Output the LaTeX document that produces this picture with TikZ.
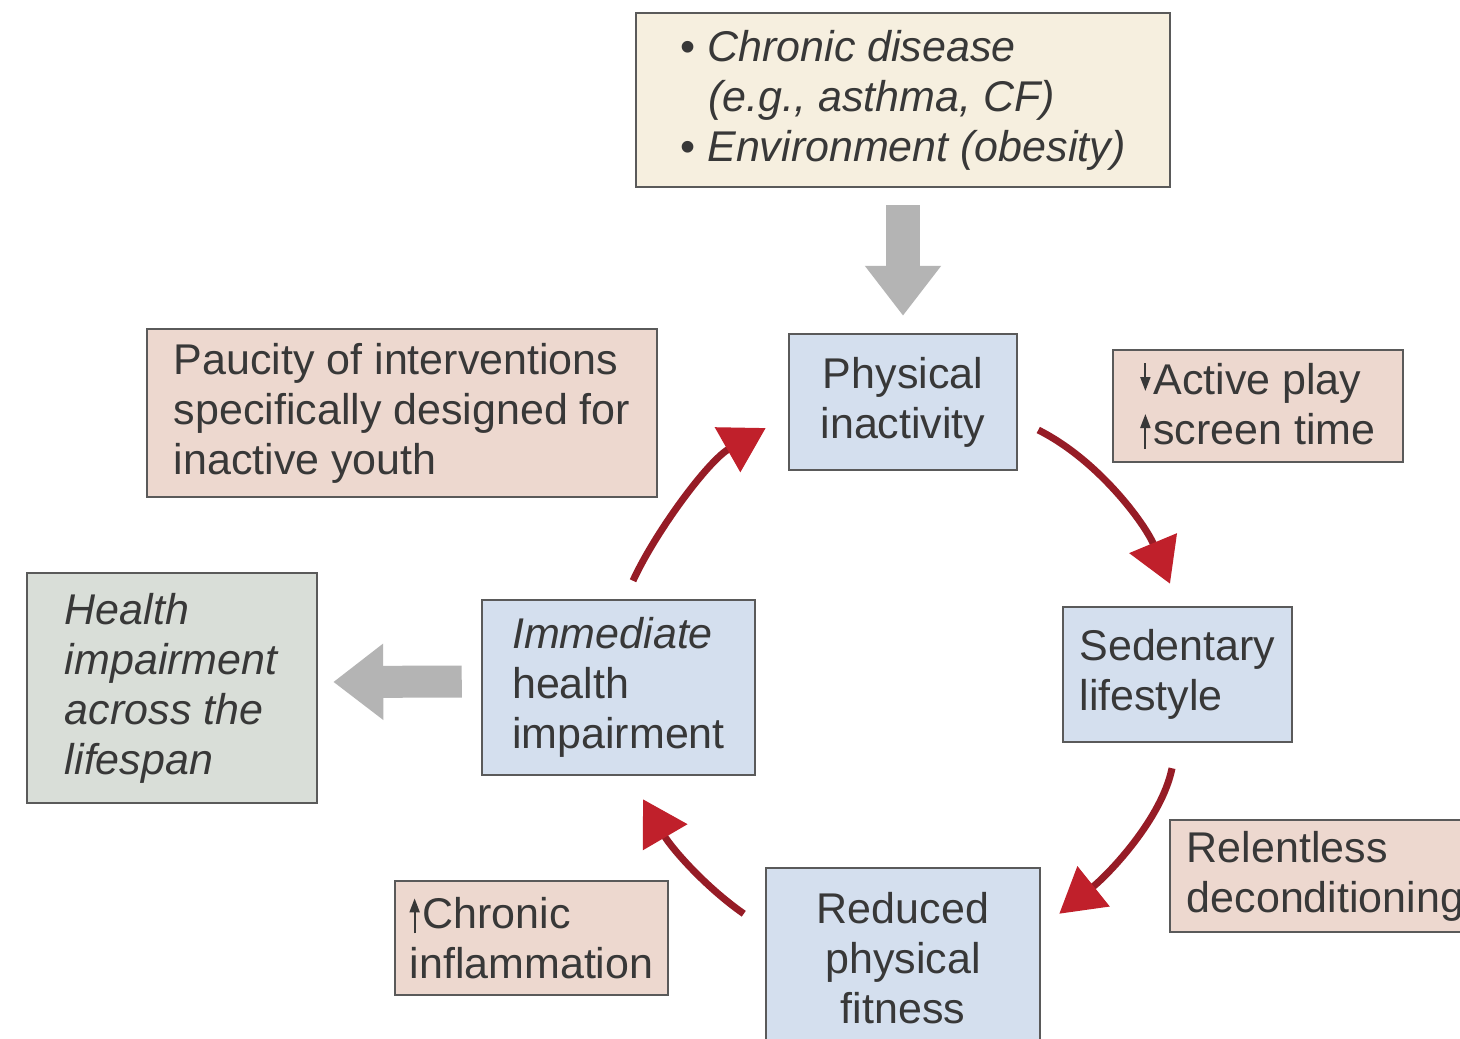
\documentclass[tikz,border=0pt]{standalone}
\usepackage{fontspec}
\setmainfont{Liberation Sans}
\usetikzlibrary{arrows.meta}

\definecolor{ink}{HTML}{383838}
\definecolor{edge}{HTML}{5A5A5A}
\definecolor{bluefill}{HTML}{D4DFEE}
\definecolor{pinkfill}{HTML}{EDD8CF}
\definecolor{creamfill}{HTML}{F6EFDF}
\definecolor{greyfill}{HTML}{D9DED8}
\definecolor{blockgrey}{HTML}{B4B4B4}
\definecolor{cycleshaft}{HTML}{961C26}
\definecolor{cyclehead}{HTML}{C0202B}

% small increase / decrease marks set in front of words
\newcommand\risemark{\tikz[baseline=0pt]\draw[ink,line width=2pt,-{Triangle[length=14pt,width=10pt]}] (0pt,-5pt)--(0pt,30pt);\kern3pt}
\newcommand\fallmark{\tikz[baseline=0pt]\draw[ink,line width=2pt,-{Triangle[length=14pt,width=10pt]}] (0pt,31pt)--(0pt,3pt);\kern3pt}

\tikzset{
  box/.style={draw=edge, line width=2.5pt, inner sep=0pt, align=left,
    text=ink, font=\fontsize{43}{50}\selectfont},
  stage/.style={box, fill=bluefill},
  factor/.style={box, fill=pinkfill},
  blockarrow/.style={draw=blockgrey, line width=34pt,
    -{Triangle[length=50pt,width=73pt,color=blockgrey]}},
  cyclearrow/.style={draw=cycleshaft, line width=7pt,
    -{Triangle[length=44pt,width=50pt,color=cyclehead]}}
}

\begin{document}
\begin{tikzpicture}[x=1pt,y=-1pt]
\path[use as bounding box, fill=white] (0,0) rectangle (1460,1039);

% causes at the top
\node[box, fill=creamfill, minimum width=534pt, minimum height=174pt] (causes) at (903,100)
  {\textbullet\ \textit{Chronic disease}\\
   \hspace*{28pt}\textit{(e.g., asthma, CF)}\\
   \textbullet\ \textit{Environment (obesity)}};

% the four stages of the cycle
\node[stage, align=center, minimum width=228pt, minimum height=136pt] (phys) at (903,402)
  {Physical\\inactivity};
\node[stage, minimum width=229pt, minimum height=135pt] (sed) at (1177.5,674.5)
  {Sedentary\\lifestyle};
\node[stage, align=center, minimum width=274pt, minimum height=180pt] (reduced) at (903,958)
  {Reduced\\physical\\fitness};
\node[stage, minimum width=273pt, minimum height=175pt] (imm) at (618.5,687.5)
  {\textit{Immediate}\\health\\impairment};

% side notes
\node[factor, minimum width=290pt, minimum height=112pt] (active) at (1258,406)
  {\fallmark Active play\\\risemark screen time};
\node[factor, minimum width=510pt, minimum height=168pt] (paucity) at (402,413)
  {Paucity of interventions\\specifically designed for\\inactive youth};
\node[factor, minimum width=311pt, minimum height=112pt] (relent) at (1325.5,876)
  {Relentless\\deconditioning};
\node[factor, minimum width=273pt, minimum height=114pt] (infl) at (531.5,938)
  {\risemark Chronic\\inflammation};

% long-term outcome
\node[box, fill=greyfill, minimum width=290pt, minimum height=230pt] (life) at (172,688)
  {\textit{Health}\\\textit{impairment}\\\textit{across the}\\\textit{lifespan}};

% wide grey arrows
\draw[blockarrow, shorten <=17pt, shorten >=17pt] (causes.south) -- (phys.north);
\draw[blockarrow, line width=32pt, shorten <=19pt, shorten >=15pt]
  ([yshift=6pt]imm.west) -- ([yshift=6pt]life.east);

% the vicious cycle
\draw[cyclearrow] ([shift={(20,28)}]phys.east)
  .. controls +(60,30) and +(-25,-60) .. ([shift={(-7.5,-22)}]sed.north);
\draw[cyclearrow] ([shift={(-5.5,25)}]sed.south)
  .. controls +(-10,50) and +(50,-40) .. ([shift={(18,47)}]reduced.north east);
\draw[cyclearrow] ([shift={(-21,47)}]reduced.north west)
  .. controls +(-40,-28) and +(28,48) .. ([shift={(24.5,23)}]imm.south);
\draw[cyclearrow] ([shift={(14.5,-18)}]imm.north)
  .. controls +(22,-48) and +(-58,33) .. ([shift={(-22,26)}]phys.west);
\end{tikzpicture}
\end{document}
